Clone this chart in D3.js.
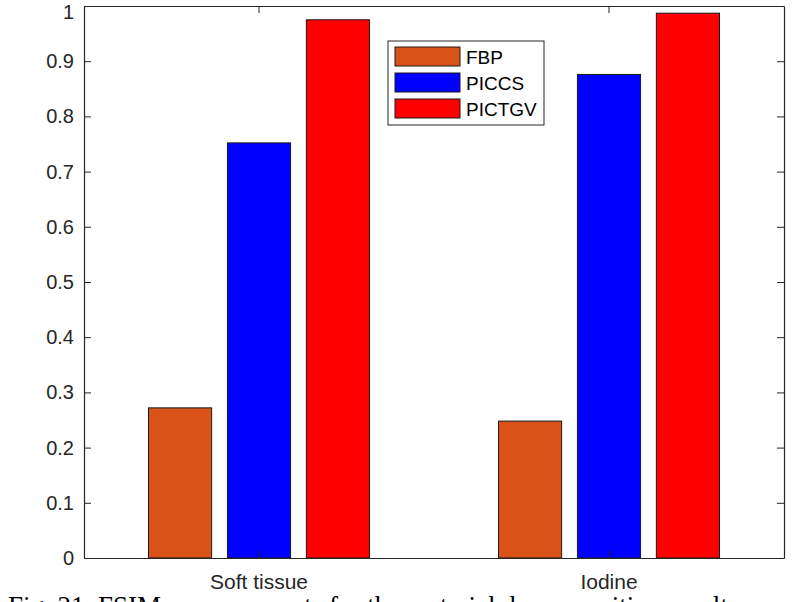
<!DOCTYPE html>
<meta charset="utf-8">
<style>
body { margin: 0; background: #fff; }
.axis text { font-family: Arial, "Liberation Sans", sans-serif; font-size: 20px; fill: #262626; }
.axis--x text { font-size: 21px; }
.axis path, .axis line { stroke: #262626; }
.legend text { font-family: Arial, "Liberation Sans", sans-serif; font-size: 19px; fill: #000; }
</style>
<svg width="800" height="602"></svg>
<script src="https://cdn.jsdelivr.net/npm/d3@7"></script>
<script>
// data
var categories = ["Soft tissue", "Iodine"];
var series = ["FBP", "PICCS", "PICTGV"];
var fbp = [0.272, 0.248];
var piccs = [0.752, 0.876];
var pictgv = [0.975, 0.987];
var yTicks = [0, 0.1, 0.2, 0.3, 0.4, 0.5, 0.6, 0.7, 0.8, 0.9, 1];
var colors = ["#D95319", "#0000FF", "#FF0000"];

var svg = d3.select("svg"),
    margin = {top: 6, right: 16, bottom: 44, left: 84},
    width = 700,
    height = 552,
    g = svg.append("g").attr("transform", "translate(" + margin.left + "," + margin.top + ")");

var values = [fbp, piccs, pictgv];
var rows = [];
categories.forEach(function(c, i) {
  series.forEach(function(s, j) {
    rows.push({cat: c, ser: s, j: j, value: values[j][i]});
  });
});

//scales
var x = d3.scaleBand().domain(categories).range([0, width]).padding(0);
var xs = d3.scaleBand().domain(series).range([-110.5, 110.5]).paddingInner(0.2);
var y = d3.scaleLinear().domain([0, 1]).range([height, 0]);
var z = d3.scaleOrdinal().domain(series).range(colors);

//bars
g.selectAll(".bar")
    .data(rows)
  .enter().append("rect")
    .attr("class", "bar")
    .attr("x", function(d) { return x(d.cat) + x.bandwidth() / 2 + xs(d.ser); })
    .attr("width", xs.bandwidth())
    .attr("y", function(d) { return y(d.value); })
    .attr("height", function(d) { return height - y(d.value); })
    .attr("fill", function(d) { return z(d.ser); })
    .attr("stroke", "#1a1a1a")
    .attr("stroke-width", 1);

//axes
g.append("g")
    .attr("class", "axis axis--x")
    .attr("transform", "translate(0," + height + ")")
    .call(d3.axisBottom(x).tickSize(-7).tickPadding(16).tickSizeOuter(0));

g.append("g")
    .attr("class", "axis axis--top")
    .call(d3.axisTop(x).tickSize(-7).tickSizeOuter(0).tickFormat(""));

var yAxis = g.append("g")
    .attr("class", "axis axis--y")
    .call(d3.axisLeft(y).tickValues(yTicks).tickSize(-7).tickPadding(10).tickSizeOuter(0)
      .tickFormat(d3.format("")));

// keep the top label inside the page, as in the original
yAxis.selectAll(".tick text")
    .filter(function(d) { return d === 1; })
    .attr("dy", "0.6em");

g.append("g")
    .attr("class", "axis axis--right")
    .attr("transform", "translate(" + width + ",0)")
    .call(d3.axisRight(y).tickValues(yTicks).tickSize(-7).tickSizeOuter(0).tickFormat(""));

g.selectAll(".axis path").attr("stroke-width", 1.2);

//legend
var legend = svg.append("g").attr("class", "legend")
    .attr("transform", "translate(388,41)");

legend.append("rect")
    .attr("width", 156)
    .attr("height", 84)
    .attr("fill", "#fff")
    .attr("stroke", "#262626")
    .attr("stroke-width", 1);

var item = legend.selectAll(".item")
    .data(series)
  .enter().append("g")
    .attr("class", "item")
    .attr("transform", function(d, i) { return "translate(7," + (6 + i * 26) + ")"; });

item.append("rect")
    .attr("width", 65)
    .attr("height", 19)
    .attr("fill", function(d) { return z(d); })
    .attr("stroke", "#1a1a1a");

item.append("text")
    .attr("x", 71)
    .attr("y", 10)
    .attr("dy", "0.35em")
    .text(function(d) { return d; });

//caption, cut off by the page edge
svg.append("text")
    .attr("x", 8)
    .attr("y", 615)
    .style("font-family", "'Liberation Serif', 'Times New Roman', serif")
    .style("font-size", "27px")
    .attr("fill", "#000")
    .text("Fig. 21. FSIM measurements for the material decomposition results");
</script>
